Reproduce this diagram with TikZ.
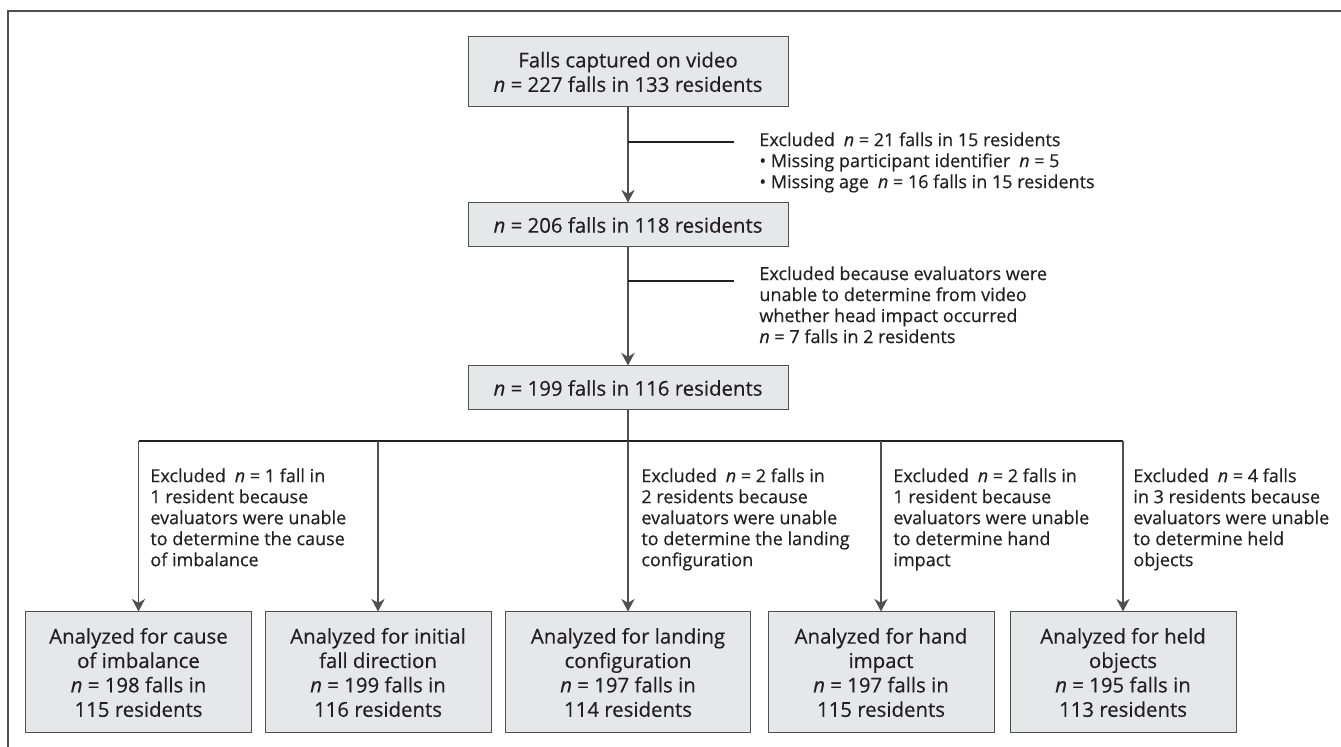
\documentclass[tikz,border=0pt]{standalone}
\usepackage{fontspec}
\setmainfont{Open Sans}[FakeBold=0.4,AutoFakeBold=0.4]
\usepackage{tikz}
\usetikzlibrary{arrows.meta}

\definecolor{boxgray}{RGB}{230,231,232}
\definecolor{inkgray}{RGB}{35,31,32}
\definecolor{rulegray}{RGB}{80,80,80}

\begin{document}
\begin{tikzpicture}[x=0.5pt,y=-0.5pt]
  \tikzstyle{BoxStyle}=[draw=rulegray,line width=0.5pt,fill=boxgray,text=inkgray,
    inner sep=0pt,align=center,font=\fontsize{10.2}{12.2}\selectfont\bfseries]
  \tikzstyle{NoteStyle}=[anchor=north west,inner sep=0pt,align=left,text=inkgray,
    font=\fontsize{9}{10.5}\selectfont\bfseries]
  \tikzstyle{EdgeStyle}=[draw=rulegray,line width=0.6pt,
    -{Stealth[length=6.3pt,width=6.6pt,inset=2pt]}]
  \tikzstyle{SideStyle}=[draw=inkgray,line width=0.8pt]
  \tikzstyle{BranchStyle}=[draw=inkgray,line width=1pt]
  \useasboundingbox (0,0) rectangle (1341,747);
  % frame
  \draw[rulegray,line width=0.6pt] (1350,11) -- (8,11) -- (8,760);
  % stem
  \node[BoxStyle,minimum width=160pt,minimum height=35pt] (Captured) at (628,72)
    {Falls captured on video\\ \textit{n} = 227 falls in 133 residents};
  \node[BoxStyle,minimum width=160pt,minimum height=22pt] (Aged) at (628,225)
    {\textit{n} = 206 falls in 118 residents};
  \node[BoxStyle,minimum width=160pt,minimum height=22pt] (Judged) at (628,388)
    {\textit{n} = 199 falls in 116 residents};
  \draw[EdgeStyle] (Captured) -- (Aged);
  \draw[EdgeStyle] (Aged) -- (Judged);
  \coordinate (SideA) at (734,142);
  \coordinate (SideB) at (734,281);
  \draw[SideStyle] (Captured.south |- SideA) -- (SideA);
  \draw[SideStyle] (Aged.south |- SideB) -- (SideB);
  \node[NoteStyle] (ExclA) at (759,132)
    {Excluded\enspace\textit{n} = 21 falls in 15 residents\\
     • Missing participant identifier\enspace\textit{n} = 5\\
     • Missing age\enspace\textit{n} = 16 falls in 15 residents};
  \node[NoteStyle] (ExclB) at (759,266)
    {Excluded because evaluators were\\
     unable to determine from video\\
     whether head impact occurred\\
     \textit{n} = 7 falls in 2 residents};
  % outcomes
  \tikzstyle{BoxStyle}+=[minimum width=113pt,minimum height=60.5pt]
  \node[BoxStyle] (Cause) at (138.5,672.5)
    {Analyzed for cause\\ of imbalance\\ \textit{n} = 198 falls in\\ 115 residents};
  \node[BoxStyle] (Direction) at (378,672.5)
    {Analyzed for initial\\ fall direction\\ \textit{n} = 199 falls in\\ 116 residents};
  \node[BoxStyle,minimum width=122.5pt] (Landing) at (628,672.5)
    {Analyzed for landing\\ configuration\\ \textit{n} = 197 falls in\\ 114 residents};
  \node[BoxStyle] (Hand) at (881,672.5)
    {Analyzed for hand\\ impact\\ \textit{n} = 197 falls in\\ 115 residents};
  \node[BoxStyle] (Held) at (1123,672.5)
    {Analyzed for held\\ objects\\ \textit{n} = 195 falls in\\ 113 residents};
  \coordinate (Split) at (628,441);
  \draw[rulegray,line width=0.6pt] (Judged) -- (Split);
  \draw[BranchStyle] (Cause.north |- Split) -- (Held.north |- Split);
  \foreach \b in {Cause,Direction,Landing,Hand,Held}
    \draw[EdgeStyle] (\b.north |- Split) -- (\b.north);
  \node[NoteStyle] (ExclCause) at (150,468)
    {Excluded\enspace\textit{n} = 1 fall in\\
     1 resident because\\
     evaluators were unable\\
     to determine the cause\\
     of imbalance};
  \node[NoteStyle] (ExclLanding) at (641,468)
    {Excluded\enspace\textit{n} = 2 falls in\\
     2 residents because\\
     evaluators were unable\\
     to determine the landing\\
     configuration};
  \node[NoteStyle] (ExclHand) at (893,468)
    {Excluded\enspace\textit{n} = 2 falls in\\
     1 resident because\\
     evaluators were unable\\
     to determine hand\\
     impact};
  \node[NoteStyle] (ExclHeld) at (1133,468)
    {Excluded\enspace\textit{n} = 4 falls\\
     in 3 residents because\\
     evaluators were unable\\
     to determine held\\
     objects};
\end{tikzpicture}
\end{document}
